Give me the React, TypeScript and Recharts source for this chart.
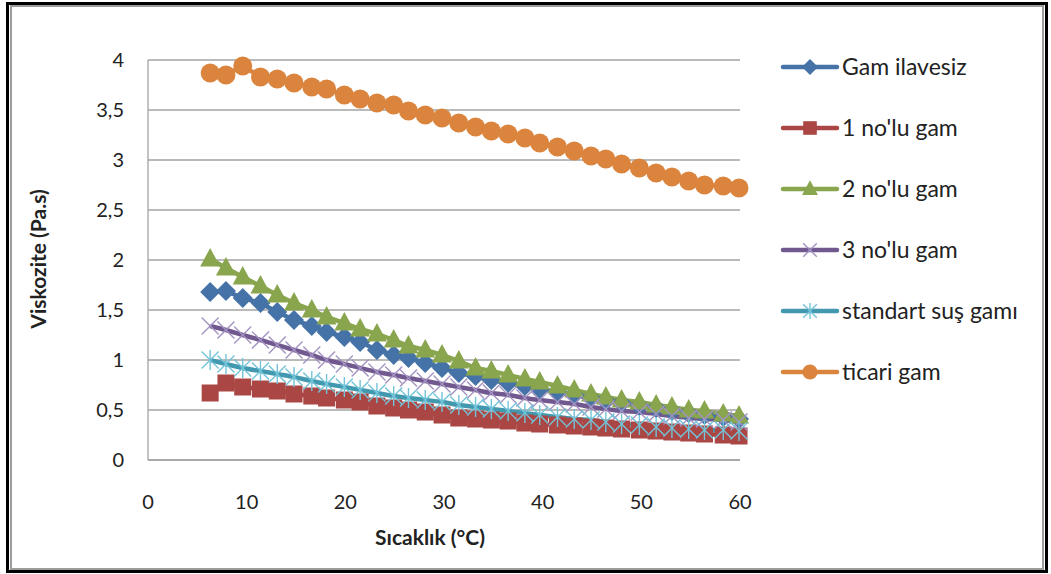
import React from "react"
import { LineChart, Line, XAxis, YAxis, CartesianGrid, Label } from "recharts"

// temperatures (°C)
const temps = [
  6.3, 7.9, 9.6, 11.4, 13.1, 14.8, 16.6, 18.1, 19.9, 21.5, 23.2, 24.9, 26.4, 28.1, 29.8, 31.5, 33.2,
  34.8, 36.5, 38.2, 39.7, 41.5, 43.2, 44.9, 46.4, 48.0, 49.8, 51.5, 53.1, 54.8, 56.4, 58.3, 59.9,
]

const gamIlavesiz = [
  1.68, 1.69, 1.62, 1.57, 1.48, 1.4, 1.34, 1.28, 1.23, 1.18, 1.1, 1.05, 1.02, 0.97, 0.92, 0.87, 0.84,
  0.8, 0.77, 0.74, 0.71, 0.68, 0.65, 0.62, 0.59, 0.57, 0.54, 0.52, 0.49, 0.47, 0.45, 0.43, 0.41,
]
const gam1 = [
  0.67, 0.77, 0.73, 0.71, 0.69, 0.66, 0.64, 0.62, 0.6, 0.58, 0.54, 0.52, 0.5, 0.48, 0.45, 0.42, 0.41,
  0.4, 0.39, 0.37, 0.36, 0.35, 0.34, 0.33, 0.32, 0.31, 0.3, 0.29, 0.28, 0.27, 0.26, 0.25, 0.24,
]
const gam2 = [
  2.01, 1.92, 1.83, 1.74, 1.65, 1.57, 1.5, 1.43, 1.37, 1.31, 1.26, 1.2, 1.14, 1.1, 1.05, 0.99, 0.92,
  0.89, 0.85, 0.81, 0.78, 0.74, 0.7, 0.66, 0.63, 0.6, 0.58, 0.55, 0.53, 0.5, 0.49, 0.46, 0.44,
]
const gam3 = [
  1.34, 1.3, 1.25, 1.2, 1.15, 1.1, 1.05, 1.0, 0.96, 0.92, 0.88, 0.85, 0.82, 0.79, 0.76, 0.73, 0.7,
  0.67, 0.65, 0.62, 0.6, 0.58, 0.56, 0.53, 0.51, 0.49, 0.48, 0.46, 0.44, 0.42, 0.41, 0.4, 0.38,
]
const standart = [
  1.0, 0.96, 0.92, 0.89, 0.86, 0.83, 0.79, 0.76, 0.73, 0.7, 0.67, 0.64, 0.62, 0.6, 0.58, 0.55, 0.53,
  0.51, 0.49, 0.47, 0.45, 0.43, 0.41, 0.4, 0.38, 0.36, 0.35, 0.33, 0.32, 0.31, 0.3, 0.3, 0.29,
]
const ticari = [
  3.87, 3.85, 3.94, 3.83, 3.81, 3.77, 3.73, 3.71, 3.65, 3.61, 3.57, 3.55, 3.49, 3.45, 3.42, 3.37, 3.33,
  3.29, 3.26, 3.22, 3.17, 3.13, 3.09, 3.04, 3.01, 2.96, 2.92, 2.87, 2.83, 2.79, 2.75, 2.74, 2.72,
]

const xTicks = [0, 10, 20, 30, 40, 50, 60]
const yTicks = [0, 0.5, 1, 1.5, 2, 2.5, 3, 3.5, 4]

const series = [
  { key: "g0", name: "Gam ilavesiz", values: gamIlavesiz, color: "#4572A7", marker: "diamond", smooth: false },
  { key: "g1", name: "1 no'lu gam", values: gam1, color: "#AA4643", marker: "square", smooth: false },
  { key: "g2", name: "2 no'lu gam", values: gam2, color: "#89A54E", marker: "triangle", smooth: false },
  { key: "g3", name: "3 no'lu gam", values: gam3, color: "#71588F", marker: "x", smooth: true },
  { key: "g4", name: "standart suş gamı", values: standart, color: "#4198AF", marker: "star", smooth: true },
  { key: "g5", name: "ticari gam", values: ticari, color: "#DB843D", marker: "circle", smooth: false },
]

const data = temps.map((t, i) => {
  const row: any = { t }
  series.forEach((s) => (row[s.key] = s.values[i]))
  return row
})

const FONT = "Lato, 'Open Sans', sans-serif"

function Marker({ type, cx, cy, color, s = 1 }: any) {
  switch (type) {
    case "diamond":
      return <polygon points={`${cx},${cy - 10 * s} ${cx + 10 * s},${cy} ${cx},${cy + 10 * s} ${cx - 10 * s},${cy}`} fill={color} />
    case "square":
      return <rect x={cx - 8.5 * s} y={cy - 8.5 * s} width={17 * s} height={17 * s} fill={color} />
    case "triangle":
      return <polygon points={`${cx},${cy - 11 * s} ${cx + 10 * s},${cy + 7.5 * s} ${cx - 10 * s},${cy + 7.5 * s}`} fill={color} />
    case "x":
      return (
        <g stroke="#a393c2" strokeWidth={1.4}>
          <line x1={cx - 8.5 * s} y1={cy - 8.5 * s} x2={cx + 8.5 * s} y2={cy + 8.5 * s} />
          <line x1={cx - 8.5 * s} y1={cy + 8.5 * s} x2={cx + 8.5 * s} y2={cy - 8.5 * s} />
        </g>
      )
    case "star":
      return (
        <g stroke="#72c3d8" strokeWidth={1.4}>
          <line x1={cx - 8.5 * s} y1={cy - 8.5 * s} x2={cx + 8.5 * s} y2={cy + 8.5 * s} />
          <line x1={cx - 8.5 * s} y1={cy + 8.5 * s} x2={cx + 8.5 * s} y2={cy - 8.5 * s} />
          <line x1={cx} y1={cy - 10 * s} x2={cx} y2={cy + 10 * s} />
        </g>
      )
    default:
      return <circle cx={cx} cy={cy} r={9.5 * s} fill={color} />
  }
}

export default function App() {
  return (
    <div style={{ position: "absolute", left: 0, top: 0, width: 1051, height: 574, background: "#fff", fontFamily: FONT }}>
      {/* frame */}
      <div style={{ position: "absolute", left: 6, top: 2, width: 1042, height: 571, border: "3px solid #000", boxSizing: "border-box" }} />
      <div style={{ position: "absolute", left: 10, top: 5, width: 1034, height: 565, border: "2px solid #9c9c9c", boxSizing: "border-box" }} />

      <div style={{ position: "absolute", left: 0, top: 0 }}>
        <LineChart width={1051} height={574} data={data} margin={{ top: 60, right: 311, bottom: 74, left: 0 }}>
          <CartesianGrid horizontal vertical={false} stroke="#a3a3a3" strokeWidth={1.3} />
          <XAxis
            dataKey="t"
            type="number"
            domain={[0, 60]}
            ticks={xTicks}
            height={40}
            tickLine={false}
            tickMargin={29}
            axisLine={{ stroke: "#a3a3a3", strokeWidth: 1.3 }}
            tick={{ fill: "#222", fontSize: 20, fontFamily: FONT }}
          >
            <Label
              content={() => (
                <text x={430} y={545} textAnchor="middle" fontFamily={FONT} fontWeight="bold" fontSize={21} fill="#222">
                  Sıcaklık (°C)
                </text>
              )}
            />
          </XAxis>
          <YAxis
            type="number"
            domain={[0, 4]}
            ticks={yTicks}
            width={148}
            tickLine={false}
            tickMargin={18}
            axisLine={{ stroke: "#a3a3a3", strokeWidth: 1.3 }}
            tickFormatter={(v: number) => String(v).replace(".", ",")}
            tick={{ fill: "#222", fontSize: 20, fontFamily: FONT }}
          >
            <Label
              content={() => (
                <text
                  x={46}
                  y={259}
                  textAnchor="middle"
                  transform="rotate(-90 46 259)"
                  fontFamily={FONT}
                  fontWeight="bold"
                  fontSize={21}
                  fill="#222"
                >
                  Viskozite (Pa.s)
                </text>
              )}
            />
          </YAxis>
          {series.map((s) => (
            <Line
              key={s.key}
              dataKey={s.key}
              name={s.name}
              type={s.smooth ? "monotone" : "linear"}
              stroke={s.color}
              strokeWidth={4.5}
              isAnimationActive={false}
              activeDot={false}
              dot={(p: any) => <Marker key={`${s.key}-${p.index}`} type={s.marker} cx={p.cx} cy={p.cy} color={s.color} />}
            />
          ))}
        </LineChart>
      </div>

      {/* legend */}
      <svg style={{ position: "absolute", left: 770, top: 40 }} width={275} height={360}>
        {series.map((s, i) => {
          const y = 27 + i * 61
          return (
            <g key={s.key}>
              <line x1={13} y1={y} x2={67} y2={y} stroke={s.color} strokeWidth={4.5} strokeLinecap="round" />
              <Marker type={s.marker} cx={40} cy={y} color={s.color} s={0.8} />
              <text x={72} y={y + 8} fontFamily={FONT} fontSize={23} fill="#222">
                {s.name}
              </text>
            </g>
          )
        })}
      </svg>
    </div>
  )
}
